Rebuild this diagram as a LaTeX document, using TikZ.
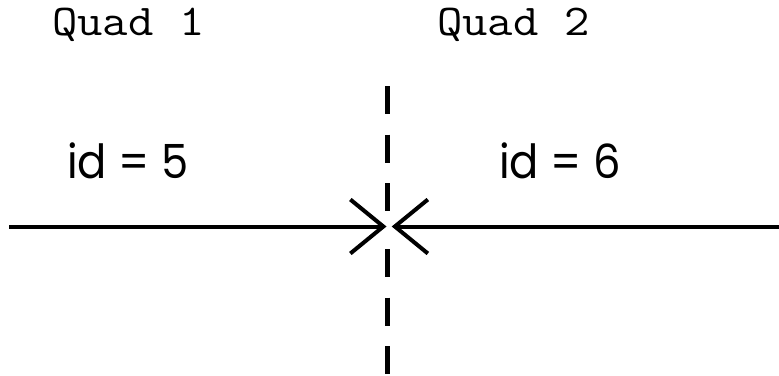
\documentclass[tikz,border=0pt]{standalone}
\usepackage{fontspec}
\newfontfamily\quadfont[FakeStretch=1.12]{Latin Modern Mono}
\newfontfamily\idfont[FakeStretch=0.92]{Poppins}
\usetikzlibrary{arrows.meta}
\begin{document}
\begin{tikzpicture}[x=1pt,y=-1pt,
  quadlabel/.style={anchor=base west,inner sep=0pt,font=\quadfont\fontsize{44}{44}\selectfont},
  idlabel/.style={anchor=base west,inner sep=0pt,font=\idfont\fontsize{47}{47}\selectfont},
  flow/.style={line width=4pt,-{Straight Barb[length=33pt,width=54pt,line width=4pt]}},
  divider/.style={line width=4.5pt,dash pattern=on 28pt off 20.7pt}]
\useasboundingbox (0,0) rectangle (779,375);
\node[quadlabel] (q1) at (52,35) {Quad 1};
\node[quadlabel] (q2) at (437,35) {Quad 2};
\node[idlabel] (id5) at (67,178) {id = 5};
\node[idlabel] (id6) at (499,178) {id = 6};
\coordinate (dtop) at (387.7,86);
\coordinate (dmid1) at (387.7,212);
\coordinate (dmid2) at (387.7,249);
\coordinate (dbot) at (387.7,380);
\draw[divider] (dtop) -- (dmid1);
\draw[divider] (dmid2) -- (dbot);
\coordinate (lstart) at (9,226.5);
\coordinate (ltip) at (386.5,226.5);
\coordinate (rstart) at (779,226.5);
\coordinate (rtip) at (391.7,226.5);
\draw[flow] (lstart) -- (ltip);
\draw[flow] (rstart) -- (rtip);
\end{tikzpicture}
\end{document}
